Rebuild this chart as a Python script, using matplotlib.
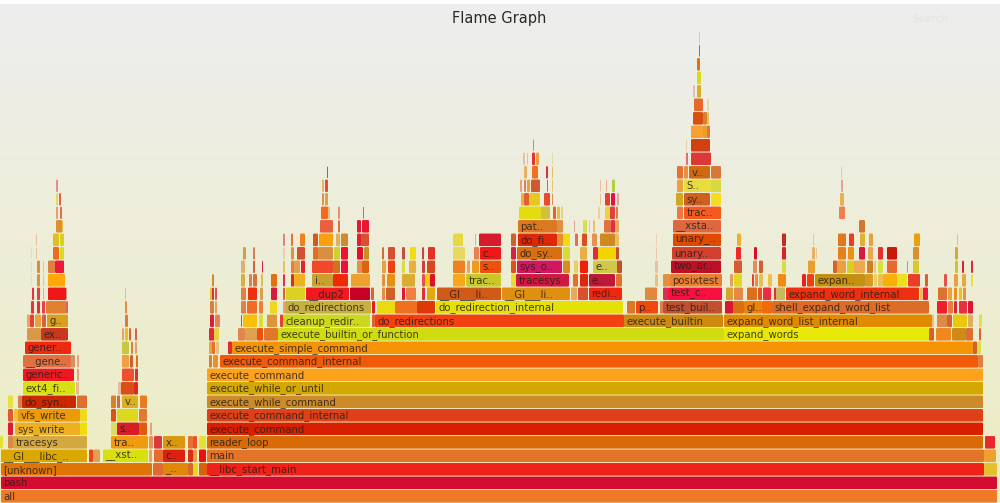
#!/usr/bin/env python3
"""Flame graph of a bash workload. Frames are listed per stack depth as (start, end, colour[, name])."""
import numpy as np
import matplotlib; matplotlib.use("Agg"); import matplotlib.pyplot as plt
from matplotlib.colors import to_rgb
from matplotlib.patches import FancyBboxPatch

W, H = 1000, 503
ROW_PX = 13.5
TOP_BAND_PX = 4

d00 = [(1, 997, "#ee7a28", "all")]
d01 = [(1, 997, "#d40b2e", "bash")]
d02 = [(1, 152, "#e07505", "[unknown]"), (153, 163, "#e06a30"), (163, 188, "#e08808", "_.."),
       (188, 193, "#d8682e"), (193, 198, "#e8d820"), (199, 207, "#d86010"),
       (207, 984, "#ee2218", "__libc_start_main"), (984, 997, "#e4c030")]
d03 = [(1, 87, "#dba800", "__GI___libc_.."), (89, 93, "#ee4418"), (93, 100, "#e0a050"),
       (103, 148, "#d8e010", "__xst.."), (149, 152, "#e8a070"), (154, 163, "#e86a30"),
       (163, 185, "#dd2010", "c.."), (188, 193, "#d83018"), (193, 197, "#e8a040"),
       (199, 206, "#e81010"), (207, 984, "#e47428", "main"), (984, 996, "#f0a030")]
d04 = [(0, 3, "#e8e030"), (8, 13, "#d88a40"), (13, 87, "#d4a840", "tracesys"),
       (111, 148, "#f09a10", "tra.."), (149, 153, "#e89060"), (154, 162, "#dc3a3a"),
       (163, 185, "#d89810", "x.."), (188, 193, "#e87030"), (193, 197, "#ee5020"),
       (199, 206, "#e8e030"), (207, 983, "#d86a08", "reader_loop"), (985, 995, "#e8282a")]
d05 = [(8, 13, "#e21a30"), (15, 80, "#eeb020", "sys_write"), (80, 87, "#f0dc10"),
       (111, 117, "#d8dc60"), (117, 139, "#d81c28", "s.."), (139, 147, "#e05a10"),
       (150, 152, "#e8a080"), (207, 983, "#d82000", "execute_command")]
d06 = [(8, 13, "#e05a30"), (14, 18, "#eec040"), (18, 80, "#ec9a08", "vfs_write"), (80, 87, "#f0d820"),
       (111, 116, "#e05010"), (117, 138, "#dcd820"), (139, 147, "#e07a30"),
       (207, 983, "#e04018", "execute_command_internal")]
d07 = [(8, 13, "#e8e040"), (18, 22, "#d88050"), (22, 76, "#cc2800", "do_syn.."), (77, 87, "#dd7030"),
       (111, 116, "#d88030"), (117, 120, "#d86060"), (122, 138, "#d8b020", "v.."), (140, 147, "#e87a20"),
       (207, 983, "#cc8a28", "execute_while_command")]
d08 = [(23, 75, "#d8e010", "ext4_fi.."), (76, 79, "#e8b890"), (118, 121, "#e8b8a0"),
       (121, 134, "#d85018"), (134, 138, "#dd2a20"), (207, 983, "#d4a800", "execute_while_or_until")]
d09 = [(23, 74, "#f01820", "generic.."), (77, 79, "#e8a080"), (122, 134, "#f05030"), (135, 138, "#d83040"),
       (207, 983, "#fca21c", "execute_command")]
d10 = [(23, 71, "#e07040", "__gene.."), (71, 75, "#d89060"), (77, 79, "#e8a080"), (122, 129, "#f0a040"),
       (130, 133, "#d06030"), (136, 138, "#e07020"), (209, 212, "#d88030"), (213, 218, "#e89030"),
       (220, 978, "#f05a08", "execute_command_internal"), (978, 983, "#e08040")]
d11 = [(25, 71, "#ee2a10", "gener.."), (122, 129, "#c8c840"), (131, 133, "#e08040"), (135, 137, "#e0a070"),
       (209, 212, "#e8a050"), (212, 215, "#e87020"), (216, 219, "#e8c080"), (228, 232, "#e02a30"),
       (232, 973, "#f59305", "execute_simple_command"), (973, 977, "#d06030"), (977, 981, "#d8e040")]
d12 = [(27, 41, "#d8984a"), (41, 68, "#c83820", "ex.."), (122, 124, "#e8a070"), (125, 128, "#e8c020"),
       (129, 131, "#e06030"), (135, 137, "#d86050"), (209, 214, "#e02838"), (214, 219, "#e8d040"),
       (238, 245, "#e0884a"), (245, 257, "#e0a050"), (257, 263, "#ee5010"), (264, 278, "#e07828"),
       (278, 724, "#d0dc10", "execute_builtin_or_function"), (724, 929, "#e8e808", "expand_words"),
       (929, 934, "#d86020"), (936, 951, "#f08820"), (952, 966, "#d08a18"), (966, 973, "#d87030"),
       (979, 981, "#e06030")]
d13 = [(30, 34, "#e84030"), (27, 30, "#e8a070"), (35, 41, "#e8a040"), (42, 46, "#d86040"),
       (47, 68, "#d8a020", "g.."), (125, 128, "#e07840"), (210, 214, "#d82030"), (215, 220, "#e88060"),
       (241, 242, "#e84030"), (243, 257, "#f8c008"), (259, 263, "#d8e030"), (267, 277, "#dc9838"),
       (280, 283, "#e84038"), (283, 370, "#ccd820", "cleanup_redir.."), (372, 375, "#e06030"),
       (375, 624, "#f24010", "do_redirections"), (624, 723, "#cc8a10", "execute_builtin"),
       (724, 932, "#e08a00", "expand_word_list_internal"), (932, 934, "#e8c080"), (937, 947, "#e08848"),
       (947, 952, "#d8602a"), (953, 967, "#e8c810"), (968, 973, "#d8b060"), (979, 982, "#e0e040")]
d14 = [(31, 34, "#e83040"), (37, 40, "#e03040"), (42, 45, "#e84050"), (46, 66, "#e08030"), (66, 68, "#e06060"),
       (125, 127, "#e09040"), (210, 214, "#d88040"), (215, 217, "#e8a060"),
       (241, 246, "#e08050"), (247, 257, "#f06a28"), (259, 263, "#ee8030"), (270, 277, "#f0d820"),
       (283, 285, "#e8a080"), (285, 371, "#c8b040", "do_redirections"), (372, 375, "#e02020"),
       (377, 395, "#e8dc10"), (395, 417, "#f07020"), (417, 435, "#dc3808"),
       (436, 623, "#e4e008", "do_redirection_internal"), (627, 635, "#d87828"), (636, 658, "#ee4a10", "p.."),
       (660, 663, "#d88050"), (663, 722, "#c05030", "test_buil.."), (725, 733, "#d81830"), (733, 744, "#d87010"),
       (744, 762, "#ef8008", "gl.."), (762, 772, "#f06a08"), (772, 929, "#dc6c28", "shell_expand_word_list"),
       (937, 947, "#ee2030"), (948, 953, "#e08040"), (954, 957, "#d82838"), (959, 967, "#ea3040"),
       (968, 973, "#d81838")]
d15 = [(32, 34, "#e83040"), (37, 40, "#e04040"), (43, 44, "#e8b090"), (48, 66, "#ee1818"), (66, 67, "#e09090"),
       (125, 126, "#e8c080"), (210, 212, "#e8c020"), (212, 214, "#d83040"), (215, 217, "#e05060"),
       (241, 246, "#e08048"), (248, 257, "#ee3010"), (260, 263, "#d8a050"), (271, 277, "#d81a40"),
       (283, 285, "#e06040"), (286, 305, "#dcd020"), (306, 349, "#ee1a20", "__dup2"), (350, 370, "#c80028"),
       (371, 374, "#e06030"), (382, 385, "#e09040"), (386, 395, "#d06028"), (402, 405, "#e01838"),
       (406, 416, "#ee8040"), (422, 425, "#e03030"), (427, 435, "#e4a810"), (437, 501, "#d05a18", "__GI___li.."),
       (502, 570, "#e09010", "__GI___li.."), (571, 577, "#e8a860"), (578, 588, "#d85030"),
       (589, 622, "#ee2810", "redi.."), (645, 657, "#e08840"), (663, 668, "#d83050"),
       (668, 722, "#f81040", "test_c.."), (726, 733, "#d8a030"), (734, 743, "#e88848"), (747, 757, "#d87020"),
       (758, 762, "#e85020"), (763, 771, "#ee2a40"), (774, 776, "#e03030"), (776, 785, "#c8b860"),
       (786, 919, "#ee3010", "expand_word_internal"), (920, 923, "#e8c060"), (923, 928, "#ee1840"),
       (938, 947, "#e07030"), (948, 952, "#e8a040"), (954, 957, "#e89018"), (959, 962, "#f0c020"),
       (963, 966, "#e89040")]
d16 = [(31, 32, "#f0d8b0"), (37, 40, "#d89050"), (43, 44, "#e8c0a0"), (48, 65, "#ffa808"),
       (212, 214, "#c89030"), (241, 245, "#d8b040"), (249, 252, "#e08050"), (253, 257, "#d87040"),
       (261, 263, "#d8c050"), (271, 277, "#e07010"), (283, 285, "#e03050"), (291, 294, "#d83018"),
       (294, 305, "#f0b020"), (312, 333, "#c8a030", "i.."), (333, 348, "#ee2a08"), (351, 370, "#eea030"),
       (382, 385, "#e09040"), (387, 395, "#e89010"), (402, 415, "#dcac30"), (422, 425, "#e85050"),
       (425, 430, "#f0d000"), (430, 435, "#e01028"), (453, 465, "#f8a818"), (466, 501, "#c8c828", "trac.."),
       (511, 516, "#e8dc30"), (516, 569, "#d01840", "tracesys"), (573, 578, "#e07030"), (580, 588, "#dd2810"),
       (589, 615, "#c01838", "e.."), (616, 622, "#e07030"), (655, 658, "#e8c080"), (663, 670, "#e09040"),
       (670, 722, "#e88030", "posixtest"), (730, 733, "#e0a060"), (734, 742, "#e0d820"), (752, 754, "#e8402e"),
       (755, 758, "#e89040"), (759, 763, "#e8c050"), (768, 772, "#f0c050"), (778, 786, "#f08a10"),
       (802, 806, "#e82020"), (807, 814, "#f04010"), (815, 865, "#c49010", "expan.."), (865, 873, "#d89828"),
       (874, 877, "#e8d060"), (878, 883, "#ecc050"), (883, 897, "#f8b008"), (897, 907, "#ece020"),
       (908, 920, "#e84028"), (925, 928, "#d86030"), (944, 947, "#e85050"), (954, 958, "#e8a040"),
       (962, 966, "#e8a840"), (971, 973, "#e8e040")]
d17 = [(31, 32, "#f0d8b0"), (37, 40, "#d09040"), (43, 44, "#e8c0a0"), (48, 55, "#e08040"), (55, 64, "#ee1838"),
       (241, 245, "#e0b070"), (253, 255, "#d86040"), (262, 263, "#d82040"), (283, 285, "#e8c060"),
       (291, 294, "#e08040"), (294, 300, "#e0a050"), (301, 305, "#e82030"), (312, 333, "#f04828"),
       (333, 340, "#d07020"), (341, 348, "#e81040"), (357, 362, "#e09050"), (362, 369, "#e06010"),
       (382, 386, "#e8a040"), (388, 395, "#ee4010"), (402, 405, "#d8dc40"), (409, 416, "#e8b040"),
       (422, 425, "#c84040"), (427, 435, "#d84820"), (453, 465, "#ee8020"), (467, 470, "#e8a070"),
       (472, 479, "#f09a20"), (480, 501, "#ee5010", "s.."), (511, 516, "#e05020"), (517, 562, "#d01860", "sys_o.."),
       (563, 570, "#dd8a20"), (574, 578, "#e8d060"), (580, 588, "#ee2008"), (593, 617, "#d0c848", "e.."),
       (617, 622, "#c05030"), (655, 658, "#e8c0a0"), (671, 721, "#bb1028", "two_ar.."), (734, 742, "#d85a30"),
       (753, 757, "#e09060"), (759, 763, "#d06038"), (782, 786, "#d8dc40"), (808, 815, "#e8a030"),
       (833, 837, "#d86030"), (837, 846, "#e8a040"), (847, 854, "#d8d020"), (854, 865, "#f0a850"),
       (867, 873, "#d08020"), (874, 876, "#e8c890"), (878, 883, "#d8e040"), (887, 897, "#e86830"),
       (907, 908, "#e88080"), (913, 919, "#d8c830"), (955, 958, "#d0c040"), (962, 964, "#d82040"),
       (971, 973, "#e02848")]
d18 = [(31, 32, "#f0d8b0"), (36, 37, "#e8c0a0"), (53, 59, "#ee6a20"), (60, 64, "#d8dc20"),
       (243, 246, "#c8a050"), (253, 255, "#d88050"), (283, 285, "#e8d0b0"), (291, 294, "#e09040"),
       (297, 305, "#d05030"), (313, 318, "#e07020"), (318, 333, "#d89040"), (334, 340, "#d0d030"),
       (341, 348, "#ee1030"), (357, 363, "#e01028"), (364, 369, "#c89020"), (382, 384, "#d07030"),
       (388, 395, "#d05030"), (402, 405, "#c05040"), (410, 416, "#f0dc10"), (422, 424, "#d04040"),
       (428, 435, "#e03028"), (453, 465, "#e8d860"), (474, 479, "#e88050"), (480, 501, "#ee1818", "c.."),
       (511, 516, "#d8204a"), (517, 562, "#d87010", "do_sy.."), (563, 570, "#d8dc30"), (580, 587, "#e8b040"),
       (593, 598, "#e02a40"), (598, 616, "#f4d400"), (616, 619, "#c05030"), (656, 657, "#e8c8a0"),
       (672, 721, "#cf4030", "unary.."), (736, 741, "#ee2a28"), (754, 757, "#d81030"), (782, 786, "#d82030"),
       (812, 815, "#e8b060"), (816, 817, "#e8c890"), (838, 846, "#e88020"), (848, 854, "#ee9010"),
       (859, 865, "#d81840"), (868, 873, "#e8a850"), (878, 883, "#e03030"), (887, 897, "#c81808"),
       (913, 919, "#d89030"), (955, 958, "#d8a830")]
d19 = [(36, 37, "#e8c0a0"), (53, 59, "#e0c020"), (60, 64, "#d8d020"), (283, 285, "#e08080"),
       (291, 293, "#e87030"), (300, 305, "#f08020"), (313, 318, "#d85818"), (319, 333, "#f8a010"),
       (336, 340, "#e0b060"), (341, 348, "#d08a30"), (357, 361, "#e02030"), (361, 369, "#d85030"),
       (453, 463, "#e8d840"), (475, 476, "#e8b090"), (479, 501, "#d81c30"), (511, 516, "#d06030"),
       (518, 557, "#e02808", "do_fi.."), (557, 563, "#e89030"), (563, 570, "#f0dc10"), (575, 578, "#e07050"),
       (582, 587, "#d85020"), (592, 597, "#e89050"), (600, 615, "#d08820"), (615, 619, "#e8c060"),
       (656, 657, "#e8d0b0"), (673, 721, "#e04a00", "unary_.."), (737, 741, "#ecb030"), (782, 786, "#c82828"),
       (813, 814, "#e8c890"), (838, 846, "#e07820"), (849, 854, "#ee3a28"), (860, 865, "#e0b030"),
       (869, 873, "#e8a040"), (914, 920, "#e8a010"), (957, 958, "#e8b8a0")]
d20 = [(56, 62, "#e09030"), (62, 63, "#e8c040"), (320, 333, "#e86040"), (338, 340, "#e07040"),
       (357, 361, "#e01a30"), (362, 369, "#e81830"), (518, 557, "#dc7820", "pat.."), (557, 563, "#e09040"),
       (574, 575, "#e8a0a0"), (583, 587, "#d8dc50"), (589, 590, "#e8c890"), (593, 595, "#e8c070"),
       (604, 611, "#e07040"), (611, 615, "#e03040"), (615, 619, "#e8a860"), (673, 721, "#dd6840", "__xsta.."),
       (859, 865, "#d07830")]
d21 = [(56, 58, "#e8a070"), (60, 62, "#e07050"), (321, 328, "#f06a20"), (328, 330, "#e8c080"), (338, 340, "#e09070"),
       (363, 364, "#e06070"), (519, 541, "#e4dc10"), (541, 550, "#d0c040"), (553, 556, "#ee6030"),
       (557, 560, "#e8c040"), (561, 563, "#e8d080"), (598, 600, "#e8d0a0"), (605, 610, "#f0d040"),
       (610, 615, "#e04040"), (616, 618, "#e08040"), (677, 683, "#ee7a40"), (684, 721, "#f45a20", "trac.."),
       (839, 845, "#ee8050")]
d22 = [(56, 58, "#e8d860"), (59, 61, "#e06050"), (322, 324, "#e09050"), (325, 328, "#e0a040"),
       (521, 524, "#e8b040"), (524, 529, "#e06030"), (529, 540, "#e8c820"), (544, 550, "#e84a30"),
       (552, 553, "#e09050"), (600, 601, "#e8c0a0"), (605, 610, "#e04030"), (611, 615, "#e81040"),
       (617, 619, "#e8a0a0"), (676, 683, "#d0a820"), (684, 710, "#d06020", "sy.."), (711, 721, "#f4dc20"),
       (840, 844, "#e8b050")]
d23 = [(56, 58, "#e09090"), (322, 324, "#e8b060"), (325, 328, "#e05030"), (520, 522, "#e8a080"),
       (524, 526, "#e08060"), (527, 530, "#e8a040"), (531, 540, "#d05a30"), (547, 548, "#d86040"),
       (552, 553, "#e8c070"), (600, 601, "#e8c0a0"), (606, 607, "#e8b090"), (612, 615, "#b0d040"),
       (677, 683, "#eca040"), (684, 711, "#e8dc40", "S.."), (711, 721, "#d8d840"), (841, 843, "#e8a090")]
d24 = [(327, 328, "#e04050"), (524, 527, "#e8b060"), (532, 538, "#f07020"), (546, 548, "#d83040"),
       (552, 553, "#e0c060"), (677, 683, "#e87030"), (684, 688, "#e89040"), (689, 710, "#d06a10", "v.."),
       (711, 721, "#d87838"), (841, 842, "#e8d090")]
d25 = [(523, 525, "#e8c0a0"), (527, 528, "#e8c0a0"), (532, 535, "#e83030"), (536, 539, "#e8a040"),
       (552, 553, "#e8d8b0"), (686, 688, "#e07070"), (691, 711, "#dd3838")]
d26 = [(533, 534, "#e08080"), (686, 687, "#e8d0a0"), (691, 710, "#d04010")]
d27 = [(691, 703, "#f8a030"), (703, 707, "#e8a020"), (707, 710, "#e07050")]
d28 = [(693, 703, "#d85010"), (703, 707, "#d88030"), (707, 709, "#e8c050")]
d29 = [(694, 703, "#e86828"), (707, 709, "#e8d8a0")]
d30 = [(693, 695, "#e8c0b0"), (697, 701, "#d8b020")]
d31 = [(697, 701, "#d8dc10")]
d32 = [(697, 700, "#e07010")]
d33 = [(699, 700, "#e05050")]
d34 = [(699, 700, "#e0d090")]
rows = [d00, d01, d02, d03, d04, d05, d06, d07, d08, d09, d10, d11, d12, d13, d14, d15, d16, d17,
        d18, d19, d20, d21, d22, d23, d24, d25, d26, d27, d28, d29, d30, d31, d32, d33, d34]

fig = plt.figure(figsize=(W / 100, H / 100), dpi=100, facecolor="white")
ax = fig.add_axes([0, 0, 1, 1])
ax.set_xlim(0, W); ax.set_ylim(0, H / ROW_PX)
ax.axis("off")

# background gradient, with the white strip of the screenshot above it
top, bot = np.array(to_rgb("#eeeeee")), np.array(to_rgb("#ecedc0"))
grad = np.linspace(0, 1, H)[:, None, None] * (bot - top)[None, None, :] + top
ax.imshow(grad, extent=(0, W, 0, (H - TOP_BAND_PX) / ROW_PX), aspect="auto", origin="upper", zorder=0)
ax.set_xlim(0, W); ax.set_ylim(0, H / ROW_PX)

for depth, row in enumerate(rows):
    for x0, x1, col, *name in row:
        ax.add_patch(FancyBboxPatch((x0, depth + 0.03), x1 - x0, 0.93, boxstyle="round,pad=0,rounding_size=1.2",
                                    mutation_aspect=1 / ROW_PX, fc=col, ec="none", zorder=2))
        if name:
            ax.text(x0 + 2.5, depth + 0.47, name[0], fontsize=7.25, color="#2a2018", alpha=0.85,
                    ha="left", va="center", zorder=3)

ax.text(499, (H - 18) / ROW_PX, "Flame Graph", fontsize=10.5, color="#2a2a2a", ha="center", va="center")
ax.text(930, (H - 19) / ROW_PX, "Search", fontsize=7.5, color="#e4e4e4", ha="center", va="center")

fig.savefig("out.png", dpi=100)
